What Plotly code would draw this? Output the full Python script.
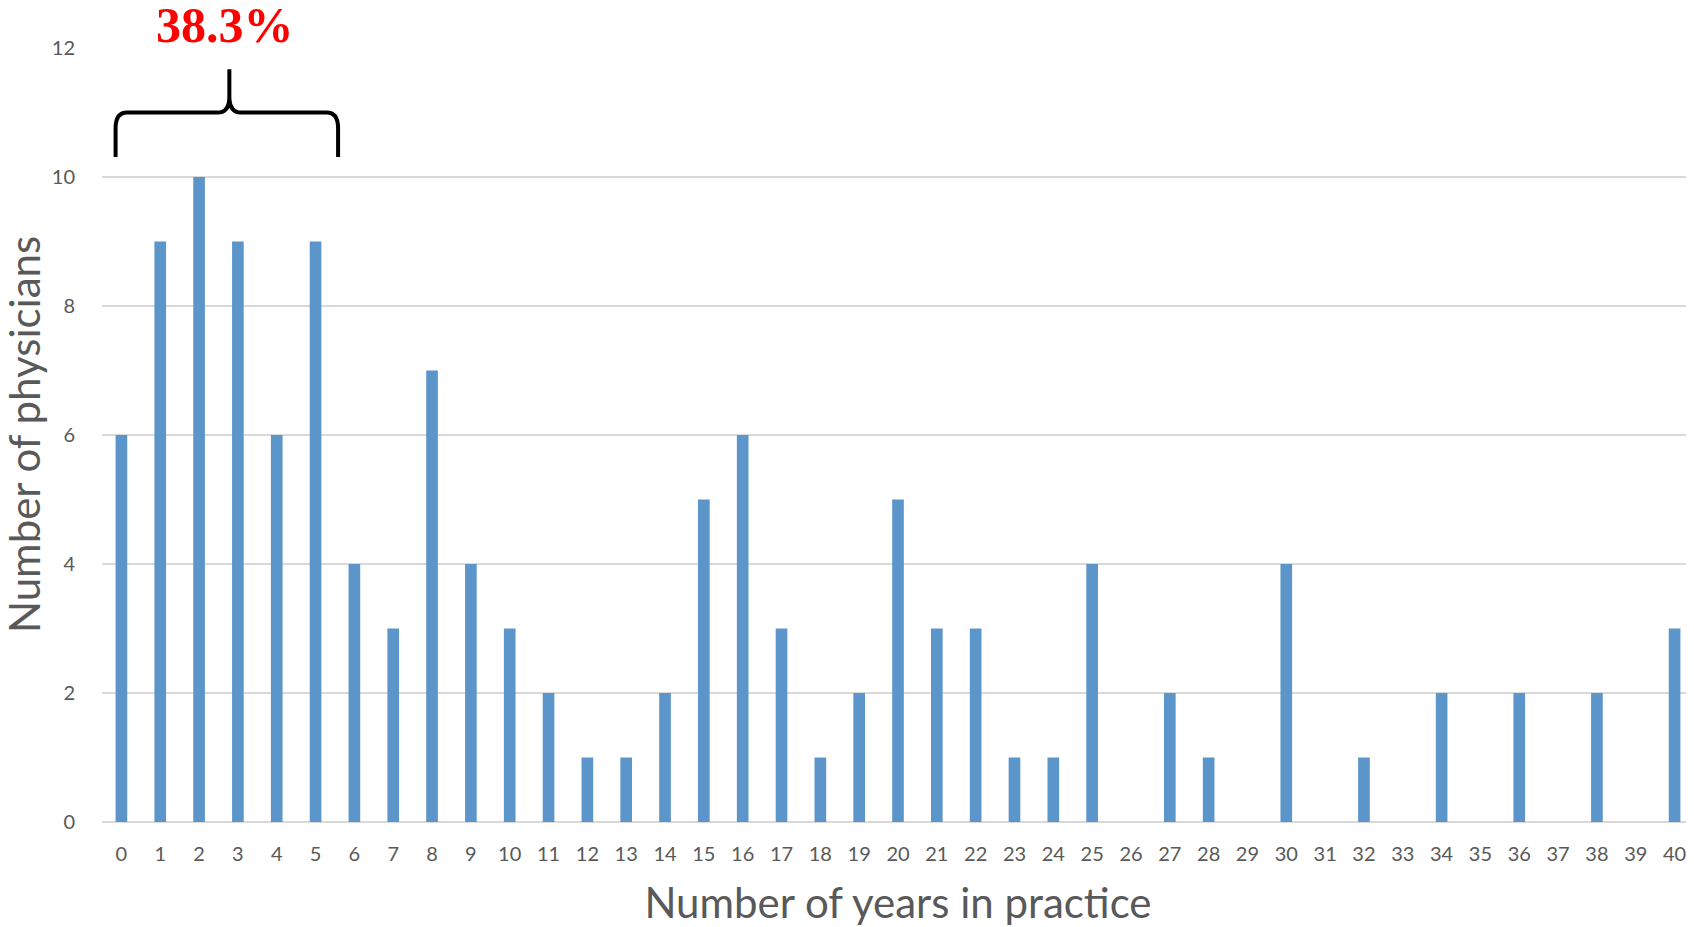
import plotly.graph_objects as go

years = list(range(41))
physicians = [6, 9, 10, 9, 6, 9, 4, 3, 7, 4, 3, 2, 1, 1, 2, 5, 6, 3, 1, 2, 5,
              3, 3, 1, 1, 4, 0, 2, 1, 0, 4, 0, 1, 0, 2, 0, 2, 0, 2, 0, 3]
tick_labels = [str(y) for y in years]
y_ticks = [0, 2, 4, 6, 8, 10, 12]
annotation_text = "38.3%"
x_title = "Number of years in practice"
y_title = "Number of physicians"

fig = go.Figure()
fig.add_trace(go.Bar(
    x=years, y=physicians,
    marker=dict(color="#5B95CA", line=dict(width=0)),
    width=0.3,
))

# Brace over years 0-5
x0, xm, x1 = -0.15, 2.78, 5.58
yb, ybar, ytip = 10.31, 11.0, 11.67
path = (f"M {x0},{yb} L {x0},10.76 Q {x0},{ybar} {x0+0.3},{ybar} "
        f"L {xm-0.3},{ybar} Q {xm},{ybar} {xm},11.25 L {xm},{ytip} "
        f"M {xm},11.25 Q {xm},{ybar} {xm+0.3},{ybar} "
        f"L {x1-0.3},{ybar} Q {x1},{ybar} {x1},10.76 L {x1},{yb}")
fig.add_shape(type="path", path=path, xref="x", yref="y",
              line=dict(color="black", width=4))

fig.add_annotation(x=2.67, y=1.0, xref="x", yref="paper", yanchor="middle",
                   yshift=23, text=f"<b>{annotation_text}</b>", showarrow=False,
                   font=dict(family="Liberation Serif, Times New Roman, serif",
                             size=50, color="#FF0000"))

# Y-axis title placed as a rotated annotation for exact positioning
fig.add_annotation(x=0, y=0.5, xref="paper", yref="paper", xanchor="center",
                   yanchor="middle", xshift=-78, textangle=-90,
                   text=y_title, showarrow=False,
                   font=dict(size=42, color="#595959"))

fig.update_layout(
    width=1686, height=919,
    margin=dict(l=94, r=0, t=40, b=105),
    paper_bgcolor="white", plot_bgcolor="white",
    showlegend=False,
    font=dict(family="Lato, Open Sans, sans-serif", color="#595959"),
    xaxis=dict(
        range=[-0.5, 40.5], tickvals=years, ticktext=tick_labels,
        tickfont=dict(size=20, color="#595959"), showgrid=False,
        ticks="outside", ticklen=14, tickcolor="rgba(0,0,0,0)",
        zeroline=False, showline=False,
        title=dict(text=x_title,
                   font=dict(size=42, color="#595959"), standoff=24),
    ),
    yaxis=dict(
        range=[0, 12], tickvals=y_ticks,
        tickfont=dict(size=20, color="#595959"),
        showgrid=True, gridcolor="#D9D9D9", gridwidth=1.5,
        zeroline=True, zerolinecolor="#D9D9D9", zerolinewidth=2,
        ticks="outside", ticklen=22, tickcolor="rgba(0,0,0,0)",
    ),
)

fig.write_html("out.html")
